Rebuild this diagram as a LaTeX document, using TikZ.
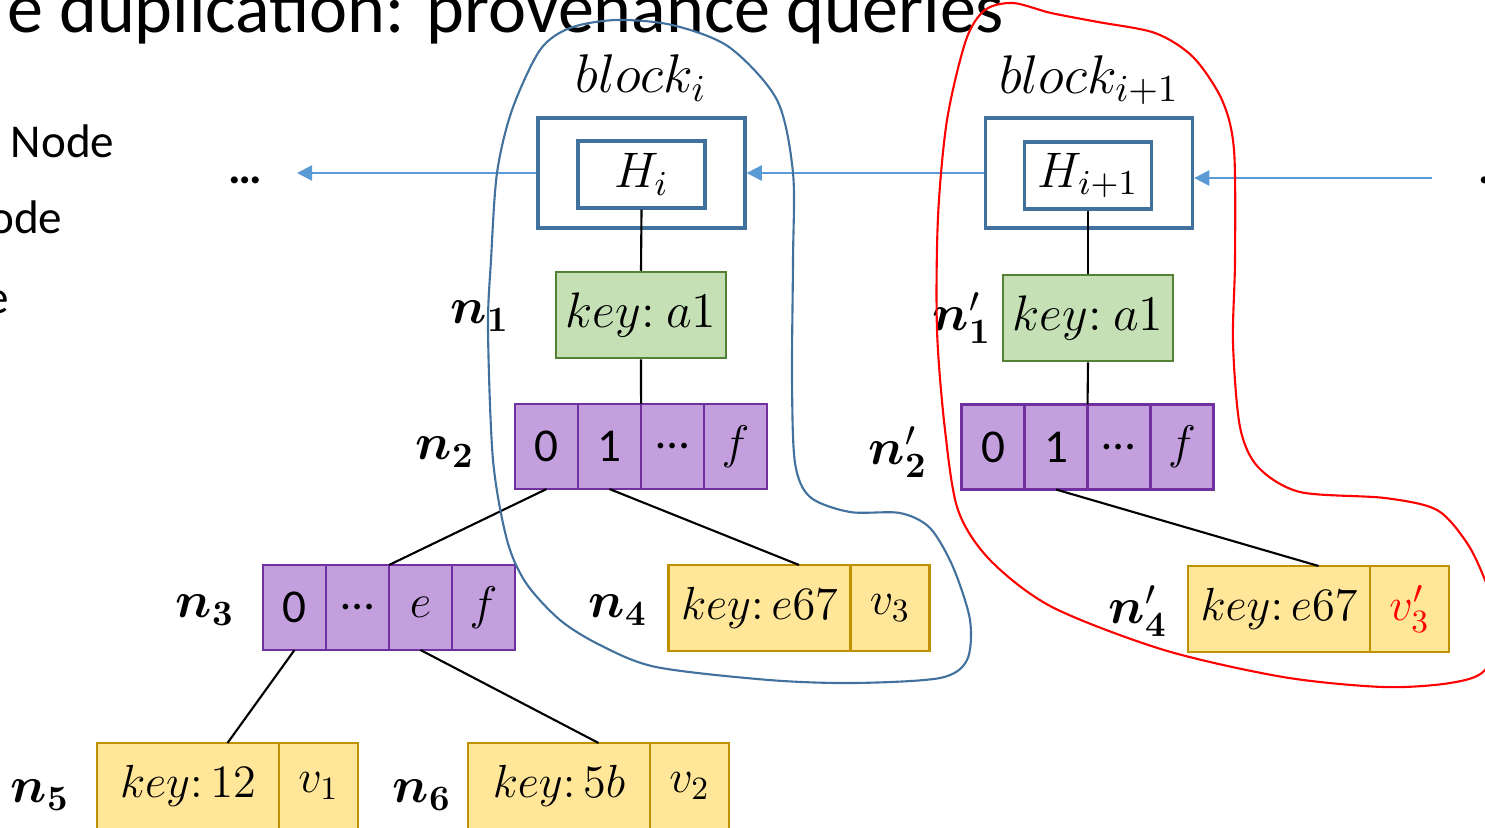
\RequirePackage{fix-cm}
\documentclass[tikz,border=0pt]{standalone}
\usepackage{amsmath,amssymb}
\usepackage[no-math]{fontspec}
\setmainfont{Carlito}
\usetikzlibrary{positioning,calc}
\usetikzlibrary{arrows.meta}
\definecolor{LinkBlue}{RGB}{91,155,213}
\definecolor{HeadBlue}{RGB}{65,113,156}
\definecolor{ExtGreen}{RGB}{197,224,180}
\definecolor{ExtEdge}{RGB}{84,130,53}
\definecolor{BrPurple}{RGB}{196,159,222}
\definecolor{BrEdge}{RGB}{112,48,160}
\definecolor{LfYellow}{RGB}{255,230,153}
\definecolor{LfEdge}{RGB}{191,144,0}
\tikzset{
  head/.style={draw=HeadBlue,line width=0.9pt,minimum width=2.07cm,minimum height=1.1cm},
  hash/.style={draw=HeadBlue,line width=0.9pt,minimum width=1.27cm,minimum height=0.67cm,inner sep=0pt},
  ext/.style={draw=ExtEdge,fill=ExtGreen,line width=0.7pt,minimum width=1.7cm,minimum height=0.86cm,inner sep=0pt},
  cell/.style={draw=BrEdge,fill=BrPurple,line width=0.7pt,minimum width=0.63cm,minimum height=0.85cm,inner sep=0pt,outer sep=0pt,font=\fontsize{13.4}{15}\selectfont},
  kcell/.style={draw=LfEdge,fill=LfYellow,line width=0.7pt,minimum width=1.82cm,minimum height=0.86cm,inner sep=0pt,outer sep=0pt,font=\fontsize{13.2}{15}\selectfont},
  vcell/.style={kcell,minimum width=0.79cm},
  link/.style={draw=LinkBlue,line width=0.6pt,-{Triangle[length=4.3pt,width=4.3pt]}},
  tie/.style={draw=black,line width=0.6pt},
}
\tikzset{lab/.style={font=\fontsize{14.5}{16}\selectfont},blk/.style={font=\fontsize{15.5}{17}\selectfont},side/.style={font=\fontsize{13.4}{15}\selectfont,anchor=base east,inner sep=0pt}}

\begin{document}
\begin{tikzpicture}[x=0.01cm,y=-0.01cm,font=\fontsize{14.2}{16}\selectfont]
\useasboundingbox (0,0) rectangle (1485,827);
\clip (0,0) rectangle (1485,827);
\node[anchor=base east,inner sep=0pt,font=\fontsize{20.5}{24}\selectfont] (title) at (1005,32) {e duplication: provenance queries};
\node[side] (s1) at (115,157) {Node};
\node[side] (s2) at (63,233) {ode};
\node[side] (s3) at (10,313) {e};
% chain of blocks
\node[blk] (bA) at (641,78) {$block_i$};
\node[blk] (bB) at (1089,80) {$block_{i+1}$};
\node[head] (hA) at (641.5,173) {};
\node[hash] (iA) at (641.5,174.5) {$H_i$};
\node[head] (hB) at (1089,173) {};
\node[hash] (iB) at (1088,175.5) {$H_{i+1}$};
\coordinate (endL) at (297,173);
\coordinate (endR) at (1432,178);
\node[font=\fontsize{13.4}{15}\selectfont\bfseries] (dotsL) at (245,180) {…};
\node[font=\fontsize{13.4}{15}\selectfont\bfseries,anchor=west] (dotsR) at (1466,180) {…};
\draw[link] (hA.west) -- (endL);
\draw[link] (hB.west) -- (hA.east);
\draw[link] (endR) -- (endR -| hB.east);
% trie of block i
\node[ext] (n1) at (641,315) {$key{:}\ a1$};
\node[cell] (n2a) at (546.5,446.5) {0};
\node[cell,right=0pt of n2a] (n2b) {1};
\node[cell,right=0pt of n2b] (n2c) {…};
\node[cell,right=0pt of n2c] (n2d) {$f$};
\node[cell] (n3a) at (294.5,607.5) {0};
\node[cell,right=0pt of n3a] (n3b) {…};
\node[cell,right=0pt of n3b] (n3c) {$e$};
\node[cell,right=0pt of n3c] (n3d) {$f$};
\node[kcell] (n4k) at (759.5,608) {$key{:}\,e67$};
\node[vcell,right=0pt of n4k] (n4v) {$v_3$};
\node[kcell] (n5k) at (188,786) {$key{:}\,12$};
\node[vcell,right=0pt of n5k] (n5v) {$v_1$};
\node[kcell] (n6k) at (559,786) {$key{:}\,5b$};
\node[vcell,right=0pt of n6k] (n6v) {$v_2$};
\coordinate (n4top) at ($(n4k.north west)!0.5!(n4v.north east)$);
\coordinate (n5top) at ($(n5k.north west)!0.5!(n5v.north east)$);
\coordinate (n6top) at ($(n6k.north west)!0.5!(n6v.north east)$);
\draw[tie] (iA.south) -- (n1.north);
\draw[tie] (n1.south) -- (n2b.north east);
\draw[tie] (n2a.south) -- (n3b.north east);
\draw[tie] (n2b.south) -- (n4top);
\draw[tie] (n3a.south) -- (n5top);
\draw[tie] (n3c.south) -- (n6top);
% trie of block i+1
\node[ext] (m1) at (1088,318) {$key{:}\ a1$};
\node[cell] (m2a) at (993,447) {0};
\node[cell,right=0pt of m2a] (m2b) {1};
\node[cell,right=0pt of m2b] (m2c) {…};
\node[cell,right=0pt of m2c] (m2d) {$f$};
\node[kcell] (m4k) at (1279,609) {$key{:}\,e67$};
\node[vcell,right=0pt of m4k] (m4v) {\color{red}$v'_3$};
\coordinate (m4top) at ($(m4k.north west)!0.5!(m4v.north east)$);
\draw[tie] (iB.south) -- (m1.north);
\draw[tie] (m1.south) -- (m2b.north east);
\draw[tie] (m2b.south) -- (m4top);
% node names
\node[lab] (ln1) at (480,316) {$\boldsymbol{n}_{\mathbf{1}}$};
\node[lab] (ln2) at (445,452) {$\boldsymbol{n}_{\mathbf{2}}$};
\node[lab] (ln3) at (205,610) {$\boldsymbol{n}_{\mathbf{3}}$};
\node[lab] (ln4) at (618,610) {$\boldsymbol{n}_{\mathbf{4}}$};
\node[lab] (ln5) at (40,795) {$\boldsymbol{n}_{\mathbf{5}}$};
\node[lab] (ln6) at (422,795) {$\boldsymbol{n}_{\mathbf{6}}$};
\node[lab] (lm1) at (962,318) {$\boldsymbol{n}'_{\mathbf{1}}$};
\node[lab] (lm2) at (898,452) {$\boldsymbol{n}'_{\mathbf{2}}$};
\node[lab] (lm4) at (1138,611) {$\boldsymbol{n}'_{\mathbf{4}}$};
% changed parts
\draw[HeadBlue,line width=0.6pt] plot[smooth cycle] coordinates {(616,20) (672,25) (729,47) (777,100) (793,173) (793,260) (792,380) (795,463) (810,497) (850,512) (900,513) (930,528) (953,567) (970,620) (967,660) (940,678) (854,683) (769,680) (656,667) (600,645) (560,620) (526,583) (507,540) (493,460) (488,330) (491,260) (497,173) (512,110) (540,50) (570,28)};
\draw[red,line width=0.6pt] plot[smooth cycle] coordinates {(1013,3) (1051,13) (1098,22) (1155,33) (1193,57) (1222,100) (1234,150) (1235,260) (1233,343) (1240,427) (1258,467) (1300,492) (1385,498) (1437,510) (1467,543) (1485,580) (1500,625) (1485,670) (1450,683) (1383,687) (1283,677) (1164,650) (1052,607) (990,560) (958,510) (945,430) (937,330) (938,217) (947,120) (966,40) (985,10)};
\end{tikzpicture}
\end{document}
